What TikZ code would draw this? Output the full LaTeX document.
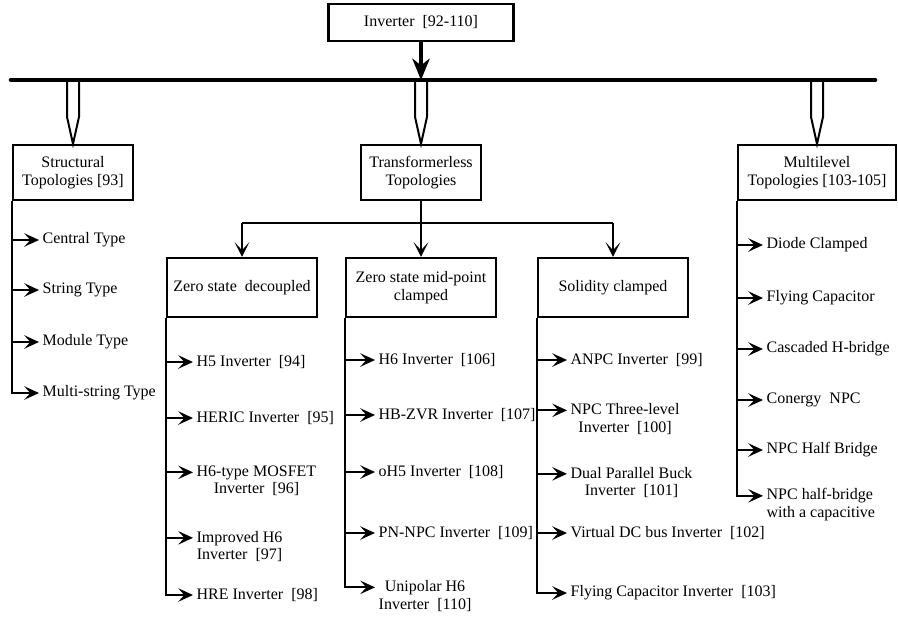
\documentclass[tikz,border=0pt]{standalone}
\usepackage{fontspec}
\setmainfont{Liberation Serif}
\usetikzlibrary{arrows.meta}

\begin{document}
\begin{tikzpicture}[x=0.75pt,y=-0.75pt,
  font=\fontsize{12}{13}\selectfont,line width=1.5pt,
  box/.style={draw,line width=1.7pt,align=center,inner sep=2pt},
  item/.style={anchor=west,align=center,inner sep=2pt},
  tip/.style={-{Stealth[length=11pt,width=10pt,inset=4.5pt]},line width=1.6pt},
  drop/.style={-{Stealth[length=11pt,width=11pt,inset=6pt]},line width=1.5pt},
  hollow/.style={draw,fill=white,line width=1.5pt,line join=miter}]
  \useasboundingbox (0,0) rectangle (898,619);

  % Root and the main bus.
  \node[box,minimum width=138.75pt,minimum height=27.75pt] (inv)
    at (421,22.5) {Inverter~ [92-110]};
  \coordinate (busL) at (11,80);
  \coordinate (busR) at (875,80);

  \node[box,minimum width=90pt,minimum height=41.25pt] (struct)
    at (73,172.5) {Structural\\Topologies [93]};
  \node[box,minimum width=90pt,minimum height=41.25pt] (tless)
    at (421,172.5) {Transformerless\\Topologies};
  \node[box,minimum width=118.5pt,minimum height=41.25pt] (multi)
    at (817,172.5) {Multilevel\\Topologies [103-105]};

  \draw[hollow] (struct.north) ++(-6,-65) -- ++(0,38) -- ++(6,27)
    -- ++(6,-27) -- ++(0,-38);
  \draw[hollow] (tless.north) ++(-6,-65) -- ++(0,38) -- ++(6,27)
    -- ++(6,-27) -- ++(0,-38);
  \draw[hollow] (multi.north) ++(-6,-65) -- ++(0,38) -- ++(6,27)
    -- ++(6,-27) -- ++(0,-38);
  \draw[line width=3.4pt,line cap=round] (busL) -- (busR);
  \draw[line width=2.8pt,-{Stealth[length=16pt,width=13pt,inset=5pt]}]
    (inv.south) -- (inv.south |- busL);

  % Transformerless branches.
  \node[box,minimum width=112.5pt,minimum height=44.25pt] (zsd)
    at (242,287.5) {Zero state~ decoupled};
  \node[box,minimum width=112.5pt,minimum height=44.25pt] (zsm)
    at (421,287.5) {Zero state mid-point\\clamped};
  \node[box,minimum width=112.5pt,minimum height=44.25pt] (sol)
    at (613,287.5) {Solidity clamped};

  \draw (tless.south) -- ++(0,22) coordinate (tj);
  \draw (zsd.north |- tj) -- (sol.north |- tj);
  \draw[drop] (zsd.north |- tj) -- (zsd.north);
  \draw[drop] (tj) -- (zsm.north);
  \draw[drop] (sol.north |- tj) -- (sol.north);

  % Structural topologies.
  \node[item] (st1) at (39,240) {Central Type};
  \node[item] (st2) at (39,290) {String Type};
  \node[item] (st3) at (39,342) {Module Type};
  \node[item] (st4) at (39,393) {Multi-string Type};
  \draw[tip] (struct.south west |- st1.west) -- (st1.west);
  \draw[tip] (struct.south west |- st2.west) -- (st2.west);
  \draw[tip] (struct.south west |- st3.west) -- (st3.west);
  \draw[tip] (struct.south west) |- (st4.west);

  % Zero state decoupled.
  \node[item] (zd1) at (193,362) {H5 Inverter~ [94]};
  \node[item] (zd2) at (193,418) {HERIC Inverter~ [95]};
  \node[item] (zd3) at (193,481) {H6-type MOSFET\\Inverter~ [96]};
  \node[item] (zd4) at (193,546.5) {Improved H6\\Inverter~ [97]};
  \node[item] (zd5) at (193,595) {HRE Inverter~ [98]};
  \coordinate (zd3a) at ([yshift=6.5pt]zd3.west);
  \coordinate (zd4a) at ([yshift=6.5pt]zd4.west);
  \draw[tip] (zsd.south west |- zd1.west) -- (zd1.west);
  \draw[tip] (zsd.south west |- zd2.west) -- (zd2.west);
  \draw[tip] (zsd.south west |- zd3a) -- (zd3a);
  \draw[tip] (zsd.south west |- zd4a) -- (zd4a);
  \draw[tip] (zsd.south west) |- (zd5.west);

  % Zero state mid-point clamped.
  \node[item] (zm1) at (375,360) {H6 Inverter~ [106]};
  \node[item] (zm2) at (375,415) {HB-ZVR Inverter~ [107]};
  \node[item] (zm3) at (375,472) {oH5 Inverter~ [108]};
  \node[item] (zm4) at (375,533) {PN-NPC Inverter~ [109]};
  \node[item] (zm5) at (375,596) {Unipolar H6\\Inverter~ [110]};
  \coordinate (zm5a) at ([yshift=6.5pt]zm5.west);
  \draw[tip] (zsm.south west |- zm1.west) -- (zm1.west);
  \draw[tip] (zsm.south west |- zm2.west) -- (zm2.west);
  \draw[tip] (zsm.south west |- zm3.west) -- (zm3.west);
  \draw[tip] (zsm.south west |- zm4.west) -- (zm4.west);
  \draw[tip] (zsm.south west) |- (zm5a);

  % Solidity clamped.
  \node[item] (sc1) at (567,360) {ANPC Inverter~ [99]};
  \node[item] (sc2) at (567,419) {NPC Three-level\\Inverter~ [100]};
  \node[item] (sc3) at (567,482.5) {Dual Parallel Buck\\Inverter~ [101]};
  \node[item] (sc4) at (567,533) {Virtual DC bus Inverter~ [102]};
  \node[item] (sc5) at (567,593) {Flying Capacitor Inverter~ [103]};
  \coordinate (sc2a) at ([yshift=6.5pt]sc2.west);
  \coordinate (sc3a) at ([yshift=6.5pt]sc3.west);
  \draw[tip] (sol.south west |- sc1.west) -- (sc1.west);
  \draw[tip] (sol.south west |- sc2a) -- (sc2a);
  \draw[tip] (sol.south west |- sc3a) -- (sc3a);
  \draw[tip] (sol.south west |- sc4.west) -- (sc4.west);
  \draw[tip] (sol.south west) |- (sc5.west);

  % Multilevel topologies.
  \node[item] (ml1) at (763,245) {Diode Clamped};
  \node[item] (ml2) at (763,298) {Flying Capacitor};
  \node[item] (ml3) at (763,349) {Cascaded H-bridge};
  \node[item] (ml4) at (763,400) {Conergy~ NPC};
  \node[item] (ml5) at (763,450) {NPC Half Bridge};
  \node[item,align=left] (ml6) at (763,504.5)
    {NPC half-bridge\\with a capacitive};
  \coordinate (ml6a) at ([yshift=6.5pt]ml6.west);
  \draw[tip] (multi.south west |- ml1.west) -- (ml1.west);
  \draw[tip] (multi.south west |- ml2.west) -- (ml2.west);
  \draw[tip] (multi.south west |- ml3.west) -- (ml3.west);
  \draw[tip] (multi.south west |- ml4.west) -- (ml4.west);
  \draw[tip] (multi.south west |- ml5.west) -- (ml5.west);
  \draw[tip] (multi.south west) |- (ml6a);
\end{tikzpicture}
\end{document}
